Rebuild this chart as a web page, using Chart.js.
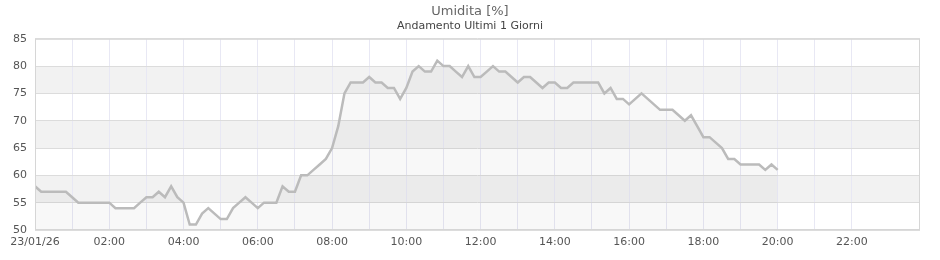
<!DOCTYPE html>
<html>
<head>
<meta charset="utf-8">
<script src="https://cdn.jsdelivr.net/npm/chart.js@4.4.1/dist/chart.umd.min.js"></script>
<style>
  html, body { margin: 0; padding: 0; background: #fff; }
  #wrap { width: 940px; height: 260px; }
</style>
</head>
<body>
<div id="wrap"><canvas id="umChart"></canvas></div>
<script>
"use strict";

// one reading every 10 minutes, starting 23/01/26 00:00
const stepMinutes = 10;
const humidity = [
  58, 57, 57, 57, 57, 57, 56, 55, 55, 55, 55, 55,
  55, 54, 54, 54, 54, 55, 56, 56, 57, 56, 58, 56,
  55, 51, 51, 53, 54, 53, 52, 52, 54, 55, 56, 55,
  54, 55, 55, 55, 58, 57, 57, 60, 60, 61, 62, 63,
  65, 69, 75, 77, 77, 77, 78, 77, 77, 76, 76, 74,
  76, 79, 80, 79, 79, 81, 80, 80, 79, 78, 80, 78,
  78, 79, 80, 79, 79, 78, 77, 78, 78, 77, 76, 77,
  77, 76, 76, 77, 77, 77, 77, 77, 75, 76, 74, 74,
  73, 74, 75, 74, 73, 72, 72, 72, 71, 70, 71, 69,
  67, 67, 66, 65, 63, 63, 62, 62, 62, 62, 61, 62,
  61
];

// labels every two hours
const tickLabels = ["23/01/26", "02:00", "04:00", "06:00", "08:00", "10:00",
  "12:00", "14:00", "16:00", "18:00", "20:00", "22:00"];

const yMin = 50;
const yMax = 85;
const yStep = 5;
const shadedBands = [[55, 60], [65, 70], [75, 80]];

const points = [];
for (let i = 0; i < humidity.length; i++) {
  points.push({ x: i * stepMinutes, y: humidity[i] });
}

const fontName = "'DejaVu Sans', Verdana, sans-serif";

const bandPlugin = {
  id: "bands",
  beforeDraw(chart) {
    const ctx = chart.ctx;
    const area = chart.chartArea;
    const y = chart.scales.y;
    ctx.save();
    ctx.fillStyle = "#f2f2f2";
    for (let i = 0; i < shadedBands.length; i++) {
      let top = y.getPixelForValue(shadedBands[i][1]);
      let bot = y.getPixelForValue(shadedBands[i][0]);
      ctx.fillRect(area.left, top, area.right - area.left, bot - top);
    }
    ctx.restore();
  },
  afterDatasetsDraw(chart) {
    const ctx = chart.ctx;
    const area = chart.chartArea;
    ctx.save();
    ctx.strokeStyle = "#d6d6d6";
    ctx.lineWidth = 1;
    ctx.strokeRect(area.left + 0.5, area.top + 0.5, area.right - area.left - 1, area.bottom - area.top - 1);
    ctx.restore();
  }
};

const config = {
  type: "line",
  data: {
    datasets: [
      {
        label: "Umidita",
        data: points,
        borderColor: "#bbbbbb",
        borderWidth: 2.5,
        backgroundColor: "rgba(0,0,0,0.027)",
        fill: "start",
        pointRadius: 0,
        tension: 0,
      },
    ],
  },
  options: {
    responsive: true,
    maintainAspectRatio: false,
    animation: false,
    layout: { padding: 0 },
    plugins: {
      legend: { display: false },
      tooltip: { enabled: false },
      title: {
        display: true,
        text: "Umidita [%]",
        color: "#666",
        font: { family: fontName, size: 13, weight: "normal" },
        padding: { top: 4, bottom: 0 },
      },
      subtitle: {
        display: true,
        text: "Andamento Ultimi 1 Giorni",
        color: "#444",
        font: { family: fontName, size: 11, weight: "normal" },
        padding: { top: 0, bottom: 6 },
      },
    },
    scales: {
      x: {
        type: "linear",
        min: 0,
        max: 1430,
        afterFit(s) { s.height = 30; },
        afterBuildTicks(s) {
          s.ticks = s.ticks.filter(t => t.value % 60 === 0);
        },
        ticks: {
          stepSize: 60,
          autoSkip: false,
          maxRotation: 0,
          padding: 6,
          color: "#555",
          font: { family: fontName, size: 11 },
          callback: function (v) {
            if (v % 120 !== 0) return "";
            return tickLabels[v / 120];
          },
        },
        grid: { color: "#e8e8f4", drawTicks: false },
        border: { display: false },
      },
      y: {
        min: yMin,
        max: yMax,
        afterFit(s) { s.width = 35; },
        ticks: {
          stepSize: yStep,
          padding: 8,
          color: "#555",
          font: { family: fontName, size: 11 },
        },
        grid: { color: "#dcdcdc", drawTicks: false },
        border: { display: false },
      },
      // empty right margin so the titles stay centred on the page
      yRight: {
        position: "right",
        min: yMin,
        max: yMax,
        afterFit(s) { s.width = 20; },
        ticks: { display: false },
        grid: { display: false, drawTicks: false },
        border: { display: false },
      },
    },
  },
  plugins: [bandPlugin],
};

const umChart = new Chart(document.getElementById("umChart"), config);
</script>
</body>
</html>
